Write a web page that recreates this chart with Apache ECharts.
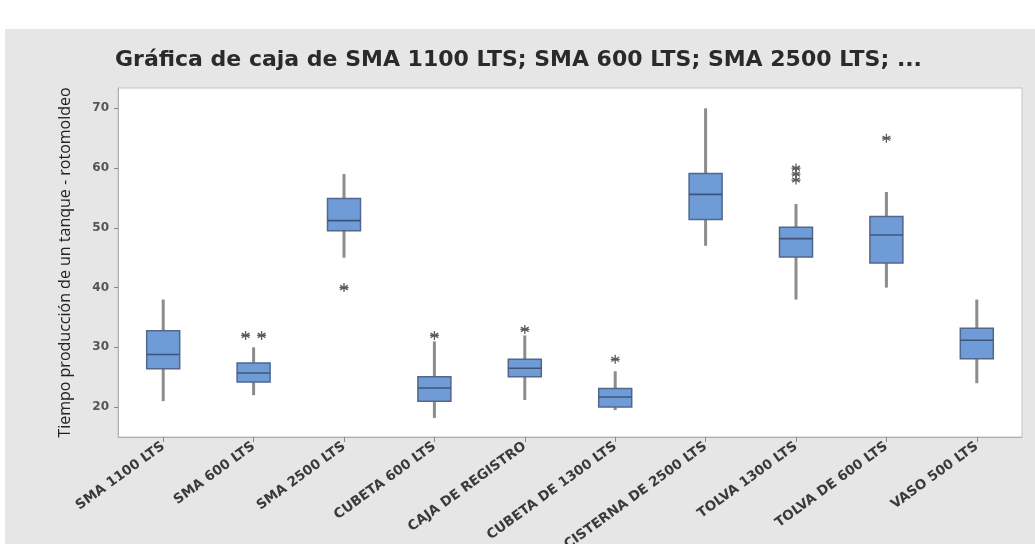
<!DOCTYPE html>
<html><head><meta charset="utf-8">
<script src="https://cdn.jsdelivr.net/npm/echarts@6/dist/echarts.min.js"></script>
<style>html,body{margin:0;padding:0;background:#fff}#c{width:1035px;height:544px}</style>
</head><body><div id="c"></div>
<script>
const categories = ["SMA 1100 LTS","SMA 600 LTS","SMA 2500 LTS","CUBETA 600 LTS","CAJA DE REGISTRO","CUBETA DE 1300 LTS","CISTERNA DE 2500 LTS","TOLVA 1300 LTS","TOLVA DE 600 LTS","VASO 500 LTS"];
// [min whisker, Q1, median, Q3, max whisker]
const boxes = [
  [21, 26.4, 28.8, 32.8, 38],
  [22, 24.2, 25.7, 27.4, 30],
  [45, 49.5, 51.2, 54.9, 59],
  [18.2, 21, 23.2, 25.1, 31],
  [21.2, 25.1, 26.5, 28, 32],
  [19.5, 20, 21.7, 23.1, 26],
  [47, 51.4, 55.6, 59.1, 70],
  [38, 45.1, 48.2, 50.1, 54],
  [40, 44.1, 48.8, 51.9, 56],
  [24, 28.1, 31.2, 33.2, 38]
];
// outliers: [category index, value]
const outliers = [[1,32],[1,32],[2,40],[3,32],[4,33],[5,28],[7,60],[7,59],[7,58],[8,65]];
const yTicks = [20,30,40,50,60,70];
const title = "Gráfica de caja de SMA 1100 LTS; SMA 600 LTS; SMA 2500 LTS; ...";
const yName = "Tiempo producción de un tanque - rotomoldeo";

// offset duplicates horizontally (Minitab stacks ties side by side)
const outData = [];
outliers.forEach((o, i) => {
  const dup = outliers.filter(p => p[0] === o[0] && p[1] === o[1]);
  const k = outliers.slice(0, i).filter(p => p[0] === o[0] && p[1] === o[1]).length;
  const off = dup.length > 1 ? (k - (dup.length - 1) / 2) * 16 : 0;
  outData.push({ value: [categories[o[0]], o[1]], symbolOffset: [off, 0] });
});

const boxData = boxes.map((b, i) => [i].concat(b));

const chart = echarts.init(document.getElementById('c'), null, {renderer: 'canvas'});
const ast = 'path://M0,-5L0,5M-4.33,-2.5L4.33,2.5M-4.33,2.5L4.33,-2.5M-5,0L5,0';
chart.setOption({
  animation: false,
  backgroundColor: '#ffffff',
  graphic: [{ type: 'rect', z: -10, shape: {x: 5, y: 29, width: 1030, height: 515}, style: {fill: '#e6e6e6'} }],
  title: {
    text: title, left: 110, top: 44,
    textStyle: {fontFamily: 'DejaVu Sans', fontSize: 22, fontWeight: 'bold', color: '#2a2a2a'}
  },
  grid: {left: 118, right: 13, top: 88, bottom: 107, show: true, outerBoundsMode: 'none', containLabel: false,
         backgroundColor: '#ffffff', borderColor: '#c4c4c4', borderWidth: 1},
  xAxis: {
    type: 'category', data: categories, boundaryGap: true,
    axisLine: {show: true, lineStyle: {color: '#b0b0b0'}},
    axisTick: {show: true, alignWithLabel: true, length: 5, lineStyle: {color: '#888'}},
    axisLabel: {rotate: 36, fontFamily: 'DejaVu Sans', fontWeight: 'bold', fontSize: 13.5, color: '#3a3a3a', margin: 8, interval: 0},
    splitLine: {show: false}
  },
  yAxis: {
    type: 'value', min: 15, max: 73.4,
    name: yName, nameLocation: 'middle', nameGap: 45, nameRotate: 90,
    nameTextStyle: {fontFamily: 'Open Sans', fontSize: 16, color: '#222'},
    axisLine: {show: true, lineStyle: {color: '#b0b0b0'}},
    axisTick: {show: true, length: 4, customValues: yTicks, lineStyle: {color: '#888'}},
    axisLabel: {customValues: yTicks, fontFamily: 'DejaVu Sans', fontWeight: 'bold', fontSize: 12, color: '#555', margin: 9},
    splitLine: {show: false}
  },
  series: [
    {
      type: 'custom', data: boxData,
      encode: {x: 0, y: [1, 2, 3, 4, 5]},
      renderItem: function (params, api) {
        const i = api.value(0);
        const pMin = api.coord([i, api.value(1)]);
        const pQ1 = api.coord([i, api.value(2)]);
        const pMed = api.coord([i, api.value(3)]);
        const pQ3 = api.coord([i, api.value(4)]);
        const pMax = api.coord([i, api.value(5)]);
        const half = 16.5;
        const x = pQ1[0];
        const wStyle = {stroke: '#8c8c8c', lineWidth: 3, fill: null};
        return {
          type: 'group',
          children: [
            {type: 'line', shape: {x1: x, y1: pMin[1], x2: x, y2: pQ1[1]}, style: wStyle},
            {type: 'line', shape: {x1: x, y1: pQ3[1], x2: x, y2: pMax[1]}, style: wStyle},
            {type: 'rect', shape: {x: x - half, y: pQ3[1], width: half * 2, height: pQ1[1] - pQ3[1]},
             style: {fill: '#6f9bd6', stroke: '#52678c', lineWidth: 1.5}},
            {type: 'line', shape: {x1: x - half, y1: pMed[1], x2: x + half, y2: pMed[1]},
             style: {stroke: '#3f5478', lineWidth: 1.6}}
          ]
        };
      }
    },
    {
      type: 'scatter', data: outData, symbol: ast, symbolSize: 9,
      itemStyle: {color: 'rgba(0,0,0,0)', borderColor: '#333', borderWidth: 1.3}
    }
  ]
});
</script></body></html>
